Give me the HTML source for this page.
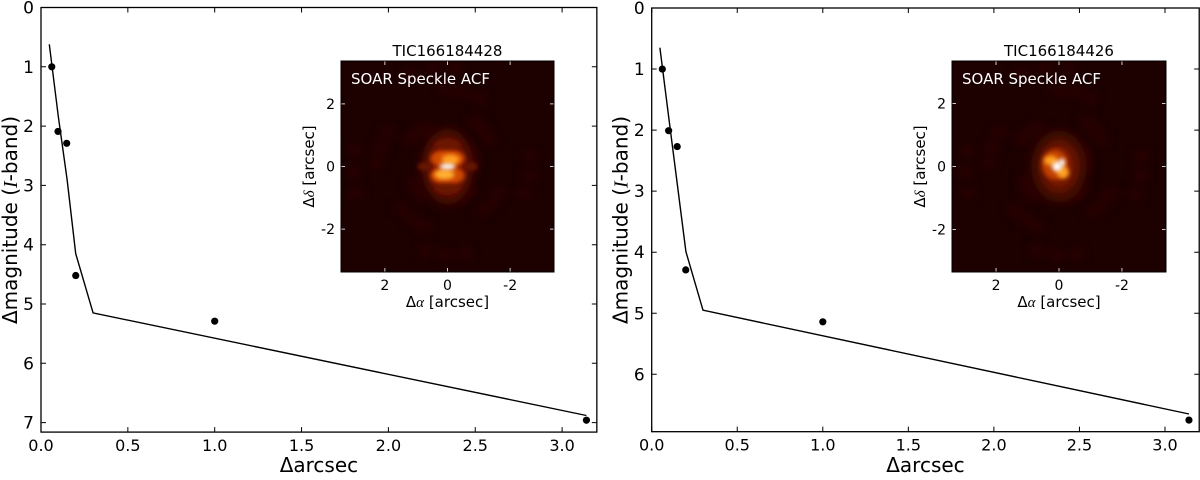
<!DOCTYPE html>
<html><head><meta charset="utf-8"><style>
html,body{margin:0;padding:0;background:#fff;}
svg text{font-family:"DejaVu Sans","Liberation Sans",sans-serif;}
</style></head><body>
<svg id="fig" width="1200" height="475" viewBox="0 0 1200 475" xmlns="http://www.w3.org/2000/svg">
<defs>
<filter id="blur2" x="-50%" y="-50%" width="200%" height="200%"><feGaussianBlur stdDeviation="2.2"/></filter>
<filter id="blur5" x="-50%" y="-50%" width="200%" height="200%"><feGaussianBlur stdDeviation="5"/></filter>
<clipPath id="clipL"><rect x="341" y="61" width="213" height="211"/></clipPath>
<clipPath id="clipR"><rect x="952" y="61" width="214" height="211"/></clipPath>
</defs>
<g id="layer"></g>
</svg>
<script>
// ---- data ----
const leftCurveX = [0.048, 0.1, 0.15, 0.2, 0.3, 3.14];
const leftCurveY = [0.62, 1.85, 2.9, 4.15, 5.15, 6.88];
const leftPtsX = [0.062, 0.098, 0.148, 0.2, 1.0, 3.14];
const leftPtsY = [1.0, 2.09, 2.29, 4.52, 5.29, 6.96];
const rightCurveX = [0.048, 0.1, 0.15, 0.2, 0.3, 3.14];
const rightCurveY = [0.65, 1.8, 2.9, 3.99, 4.95, 6.65];
const rightPtsX = [0.062, 0.099, 0.149, 0.199, 1.0, 3.14];
const rightPtsY = [1.0, 2.01, 2.27, 4.29, 5.14, 6.75];
const xTicks = [0, 0.5, 1.0, 1.5, 2.0, 2.5, 3.0];
const xTickLabels = ["0.0","0.5","1.0","1.5","2.0","2.5","3.0"];
const leftYTicks = [0,1,2,3,4,5,6,7];
const rightYTicks = [0,1,2,3,4,5,6];
const insetTicks = [2, 0, -2];
const insetTickLabels = ["2","0","-2"];

const NS = "http://www.w3.org/2000/svg";
const layer = document.getElementById('layer');
function mk(tag, attrs, parent){
  const e = document.createElementNS(NS, tag);
  for (const k in attrs) e.setAttribute(k, attrs[k]);
  (parent||layer).appendChild(e);
  return e;
}

function panel(cfg){
  const g = mk('g', {});
  
  
  const X = v => cfg.x0 + v * cfg.sx;
  const Y = v => cfg.y0 + v * cfg.sy;
  const right = X(cfg.xmax), bottom = Y(cfg.ymax);
  xTicks.forEach((t,i)=>{
    const x = X(t);
    const tk = mk('path', {d:`M${x} ${bottom}v-5M${x} ${cfg.y0}v5`, stroke:'#000','stroke-width':1}, g);
    
    
    const tl = mk('text', {x:x, y:bottom+19, 'font-size':16, 'text-anchor':'middle'}, g);
    tl.textContent = xTickLabels[i];
    
    
  });
  cfg.yTicks.forEach(t=>{
    const y = Y(t);
    const tk = mk('path', {d:`M${cfg.x0} ${y}h5M${right} ${y}h-5`, stroke:'#000','stroke-width':1}, g);
    
    
    const tl = mk('text', {x:cfg.x0-7, y:y+6, 'font-size':17, 'text-anchor':'end'}, g);
    tl.textContent = String(t);
    
    
  });
  const d = cfg.cx.map((v,i)=>(i?'L':'M')+X(v).toFixed(1)+' '+Y(cfg.cy[i]).toFixed(1)).join('');
  const ln = mk('path', {d:d, fill:'none', stroke:'#000','stroke-width':1.4}, g);
  
  
  cfg.px.forEach((v,i)=>{
    const c = mk('circle', {cx:X(v), cy:Y(cfg.py[i]), r:3.6, fill:'#000'}, g);
    
    
  });
  const fr = mk('rect', {x:cfg.x0, y:cfg.y0, width:right-cfg.x0, height:bottom-cfg.y0, fill:'none', stroke:'#000','stroke-width':1.3}, g);
  
  
  const xl = mk('text', {x:(cfg.x0+right)/2, y:472, 'font-size':20, 'text-anchor':'middle'}, g);
  xl.textContent = 'Δarcsec';
  
  
  const yl = mk('text', {x:0, y:0, 'font-size':20, 'text-anchor':'middle', transform:`translate(${cfg.x0-24},220) rotate(-90)`}, g);
  yl.innerHTML = 'Δmagnitude (<tspan font-style="italic" font-family="Liberation Serif, serif">I</tspan>-band)';
  
  

  const ig = mk('g', {}, g);
  
  
  const ix = cfg.ix, iw = cfg.iw, iy = 61, ih = 211, icx = ix + iw/2, icy = iy + ih/2, s = iw/6.8;
  mk('rect', {x:ix, y:iy, width:iw, height:ih, fill:'#1c0100'}, ig);
  const im = mk('g', {'clip-path':`url(#${cfg.clip})`}, ig);
  for (let k=0;k<40;k++){
    const a = k*2.399, r = 25 + (k*37)%80;
    mk('ellipse', {cx:icx+Math.cos(a)*r, cy:icy+Math.sin(a)*r, rx:8, ry:6, fill:'#340400', opacity:0.6, filter:'url(#blur5)'}, im);
  }
  cfg.blobs.forEach(b=>{
    mk('ellipse', {cx:icx+b[0], cy:icy+b[1], rx:b[2], ry:b[3], fill:b[4], filter:b[5]||'url(#blur2)'}, im);
  });
  insetTicks.forEach((t,i)=>{
    const x = icx - t*s, y = icy - t*s;
    mk('path', {d:`M${x} ${iy+ih}v-4M${x} ${iy}v4M${ix} ${y}h4M${ix+iw} ${y}h-4`, stroke:'#ccc','stroke-width':1}, ig);
    const a = mk('text', {x:x, y:iy+ih+18, 'font-size':14, 'text-anchor':'middle'}, ig);
    a.textContent = insetTickLabels[i];
    
    
    const b = mk('text', {x:ix-6, y:y+5, 'font-size':14, 'text-anchor':'end'}, ig);
    b.textContent = insetTickLabels[i];
    
    
  });
  mk('rect', {x:ix, y:iy, width:iw, height:ih, fill:'none', stroke:'#000','stroke-width':1}, ig);
  const tt = mk('text', {x:icx, y:56, 'font-size':15, 'text-anchor':'middle'}, ig);
  tt.textContent = cfg.title;
  
  
  const lb = mk('text', {x:ix+10, y:iy+23, 'font-size':15, fill:'#fff'}, ig);
  lb.textContent = 'SOAR Speckle ACF';
  
  
  const ax = mk('text', {x:icx, y:307, 'font-size':15, 'text-anchor':'middle'}, ig);
  ax.innerHTML = 'Δ<tspan font-style="italic" font-family="Liberation Serif, serif">α</tspan> [arcsec]';
  
  
  const ay = mk('text', {x:0, y:0, 'font-size':15, 'text-anchor':'middle', transform:`translate(${ix-27},${icy}) rotate(-90)`}, ig);
  ay.innerHTML = 'Δ<tspan font-style="italic" font-family="Liberation Serif, serif">δ</tspan> [arcsec]';
  
  
}

panel({name:'left-panel', x0:41, y0:7.5, sx:173.7, sy:59.3, xmax:3.2, ymax:7.16, yTicks:leftYTicks,
  cx:leftCurveX, cy:leftCurveY, px:leftPtsX, py:leftPtsY, ix:341, iw:213, clip:'clipL', title:'TIC166184428',
  blobs:[[0,0,26,38,'#4a0700','url(#blur5)'],[0,0,18,26,'#861500','url(#blur5)'],[0,-8,17,9,'#d04800'],[0,9,17,9,'#d04800'],
    [3,-7,9,5,'#ffa020'],[-3,8,10,5,'#ffb030'],[0,0,8,3,'#ffffff'],[0,-22,13,5,'#6a1500'],[0,22,13,5,'#6a1500'],[-24,0,6,4,'#6a1500'],[24,0,6,4,'#6a1500']]});
panel({name:'right-panel', x0:651.7, y0:8, sx:171.1, sy:61.05, xmax:3.2, ymax:6.94, yTicks:rightYTicks,
  cx:rightCurveX, cy:rightCurveY, px:rightPtsX, py:rightPtsY, ix:952, iw:214, clip:'clipR', title:'TIC166184426',
  blobs:[[0,0,28,36,'#420700','url(#blur5)'],[0,0,18,24,'#7a1400','url(#blur5)'],[-4,-2,13,15,'#c04000'],
    [-8,-6,7,5,'#ffa020'],[4,6,6,6,'#ffa020'],[-2,0,5,5,'#ffffff'],[3,-4,3,4,'#ffffff']]});
</script>
</body></html>
